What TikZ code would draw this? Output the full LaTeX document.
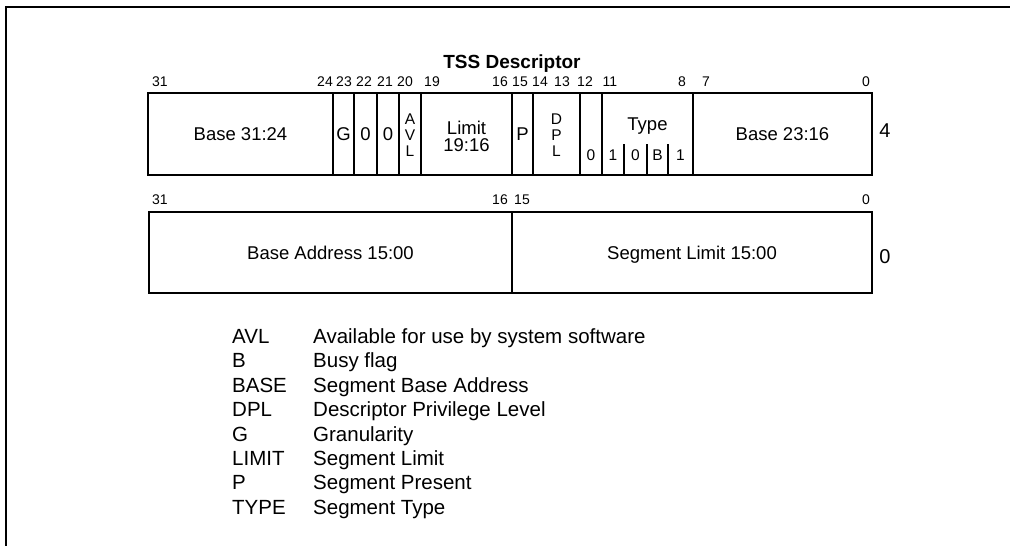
\documentclass[tikz,border=0pt]{standalone}
\usepackage{fontspec}
\setmainfont{Liberation Sans}
\usetikzlibrary{positioning}

\begin{document}
\begin{tikzpicture}[
    x=1pt, y=-1pt,
    field/.style={font=\fontsize{18.5}{17}\selectfont, align=center, inner sep=0pt, text depth=0pt},
    stack/.style={font=\fontsize{15.5}{16}\selectfont, align=center, inner sep=0pt},
    bitno/.style={font=\fontsize{14}{14}\selectfont, inner sep=0pt},
    legend/.style={font=\fontsize{20.5}{24}\selectfont, inner sep=0pt, anchor=base west},
    frame/.style={line width=2.4pt},
    wall/.style={line width=2pt},
    subwall/.style={line width=1.5pt}
]
    \useasboundingbox (0,0) rectangle (1010,546);
    \draw[frame] (6,546) -- (6,7) -- (1010,7);

    \node[font=\bfseries\fontsize{19}{19}\selectfont, inner sep=0pt] (title) at (512,64) {TSS Descriptor};

    % word at offset 4
    \draw[wall] (148,93) rectangle (872,175);
    \foreach \x in {333,354,377,399,421,512,533,580,602,693}
        \draw[wall] (\x,93) -- (\x,175);
    \foreach \x in {624,647,668}
        \draw[subwall] (\x,144) -- (\x,175);

    \foreach \b/\x in {31/160,24/325,23/344,22/364,21/385,20/405,19/432,16/500,15/520,14/540,13/562,12/585,11/610,8/682,7/706,0/866}
        \node[bitno] (hi\b) at (\x,82) {\b};

    \node[field] (base3124) at (240.5,134) {Base 31:24};
    \node[field] (g) at (343.5,134) {G};
    \node[field] (zero22) at (365.5,134) {0};
    \node[field] (zero21) at (388,134) {0};
    \node[stack] (avl) at (410,135) {A\\V\\L};
    \node[field] (limit) at (466.5,136) {Limit\\19:16};
    \node[field] (p) at (522.5,134) {P};
    \node[stack] (dpl) at (556.5,135) {D\\P\\L};
    \node[stack] (zero12) at (591,155) {0};
    \node[field] (type) at (647.5,124) {Type};
    \node[stack] (type11) at (613,155) {1};
    \node[stack] (type10) at (635.5,155) {0};
    \node[stack] (type9) at (657.5,155) {B};
    \node[stack] (type8) at (680.5,155) {1};
    \node[field] (base2316) at (782.5,134) {Base 23:16};
    \node[field, font=\fontsize{20}{20}\selectfont] (off4) at (885,131) {4};

    % word at offset 0
    \draw[wall] (149,212) rectangle (872,293);
    \draw[wall] (512,212) -- (512,293);
    \foreach \b/\x in {31/160,16/500,15/522,0/866}
        \node[bitno] (lo\b) at (\x,200) {\b};
    \node[field] (baseaddr) at (330.5,252.5) {Base Address 15:00};
    \node[field] (seglimit) at (692,252.5) {Segment Limit 15:00};
    \node[field, font=\fontsize{20}{20}\selectfont] (off0) at (885,257) {0};

    % key
    \foreach \abbr/\desc [count=\i from 0] in {AVL/Available for use by system software, B/Busy flag, BASE/Segment Base Address, DPL/Descriptor Privilege Level, G/Granularity, LIMIT/Segment Limit, P/Segment Present, TYPE/Segment Type} {
        \node[legend] (abbr\i) at (232,343.5+24.4*\i) {\abbr};
        \node[legend] (desc\i) at (313,343.5+24.4*\i) {\desc};
    }
\end{tikzpicture}
\end{document}
